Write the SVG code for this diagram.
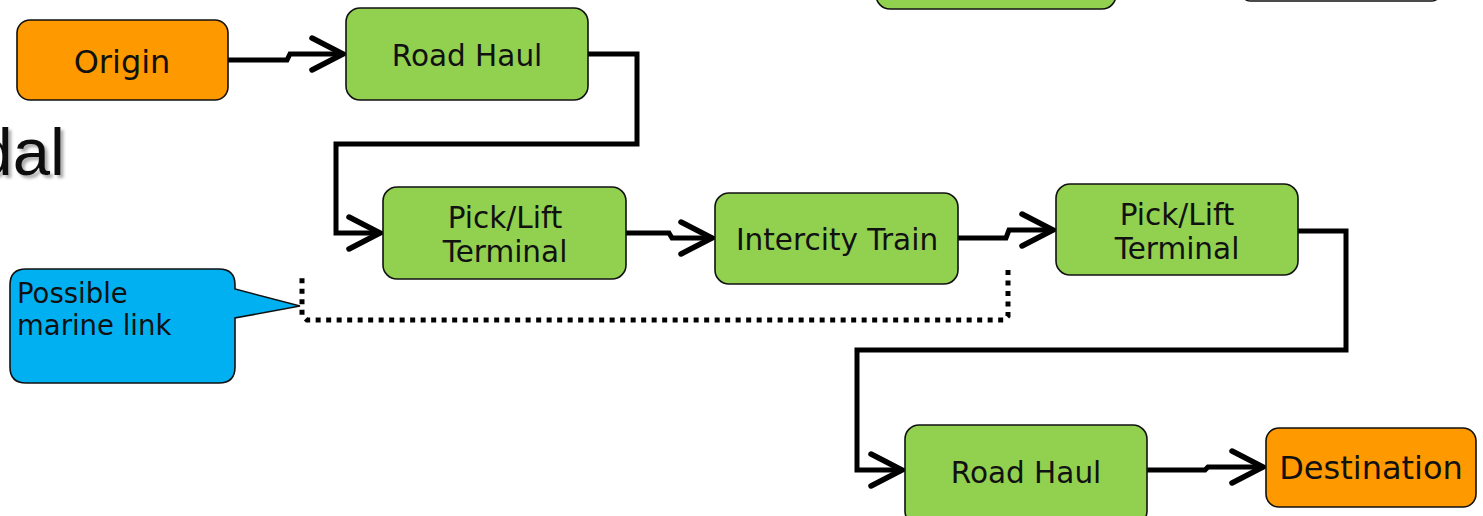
<svg xmlns="http://www.w3.org/2000/svg" width="1483" height="516" viewBox="0 0 1483 516">
<defs>
<style>
.box{stroke:#111;stroke-width:1.6}
.g{fill:#92D050}
.o{fill:#FF9900}
.lbl{font-family:"DejaVu Sans",Verdana,sans-serif;font-size:29.5px;fill:#111;text-anchor:middle}
.big{font-size:32px}
.cal{font-family:"DejaVu Sans",Verdana,sans-serif;font-size:27.5px;fill:#111}
.ttl{font-family:"Liberation Sans",Arial,sans-serif;font-size:67px;text-anchor:end}
.con{fill:none;stroke:#000;stroke-width:5;stroke-linejoin:miter}
.dot{fill:none;stroke:#000;stroke-width:5;stroke-dasharray:5 5.5}
</style>
<filter id="shadow" x="-20%" y="-20%" width="150%" height="150%"><feDropShadow dx="3" dy="3" stdDeviation="1.5" flood-color="#777" flood-opacity="0.6"/></filter>
<marker id="arr" markerUnits="userSpaceOnUse" markerWidth="60" markerHeight="60" viewBox="-40 -30 60 60" refX="0" refY="0" orient="auto" overflow="visible">
<path d="M-31,-16 L0,0 L-31,16" fill="none" stroke="#000" stroke-width="5.5" stroke-linecap="round" stroke-linejoin="miter"/>
</marker>
</defs>
<rect width="1483" height="516" fill="#fff"/>

<g id="title">
<text class="ttl" x="65" y="175" fill="#111" filter="url(#shadow)">dal</text>
</g>

<g id="top-partial-green"><rect class="box g" x="876" y="-80" width="240" height="89" rx="14"/></g>
<g id="top-partial-white"><rect class="box" fill="#fff" x="1242" y="-80" width="198" height="81" rx="8"/></g>

<g id="connectors">
<path class="con" marker-end="url(#arr)" d="M228,60 L287,60 L290,54 L343,54"/>
<path class="con" marker-end="url(#arr)" d="M588,54 L637,54 L637,144 L336,144 L336,233 L380,233"/>
<path class="con" marker-end="url(#arr)" d="M626,233 L669,233 L672,238 L712,238"/>
<path class="con" marker-end="url(#arr)" d="M958,238 L1006,238 L1009,230 L1053,230"/>
<path class="con" marker-end="url(#arr)" d="M1298,231 L1346,231 L1346,350 L857,350 L857,470 L902,470"/>
<path class="con" marker-end="url(#arr)" d="M1147,470 L1205,470 L1208,467 L1263,467"/>
<path class="dot" d="M1008,270 L1008,316 L1004,320 L307,320 L302,315 L302,276"/>
</g>

<g id="origin"><rect class="box o" x="17" y="20" width="211" height="80" rx="13"/><text class="lbl big" x="122" y="73">Origin</text></g>
<g id="road-haul-1"><rect class="box g" x="346" y="8" width="242" height="92" rx="14"/><text class="lbl" x="467" y="66">Road Haul</text></g>
<g id="pick-lift-1"><rect class="box g" x="383" y="187" width="243" height="92" rx="14"/><text class="lbl" x="505" y="228">Pick/Lift</text><text class="lbl" x="505" y="262">Terminal</text></g>
<g id="intercity-train"><rect class="box g" x="715" y="193" width="243" height="91" rx="14"/><text class="lbl" x="837" y="250">Intercity Train</text></g>
<g id="pick-lift-2"><rect class="box g" x="1056" y="184" width="242" height="91" rx="14"/><text class="lbl" x="1177" y="225">Pick/Lift</text><text class="lbl" x="1177" y="259">Terminal</text></g>
<g id="road-haul-2"><rect class="box g" x="905" y="425" width="242" height="100" rx="14"/><text class="lbl" x="1026" y="483">Road Haul</text></g>
<g id="destination"><rect class="box o" x="1266" y="428" width="210" height="79" rx="13"/><text class="lbl big" x="1371" y="479">Destination</text></g>

<g id="callout">
<path d="M26,269 L219,269 Q235,269 235,285 L235,289 L300,306 L235,318 L235,367 Q235,383 219,383 L26,383 Q10,383 10,367 L10,285 Q10,269 26,269 Z" fill="#00B0F0" stroke="#111" stroke-width="1.6"/>
<text class="cal" x="17" y="303">Possible</text>
<text class="cal" x="17" y="335">marine link</text>
</g>
</svg>
